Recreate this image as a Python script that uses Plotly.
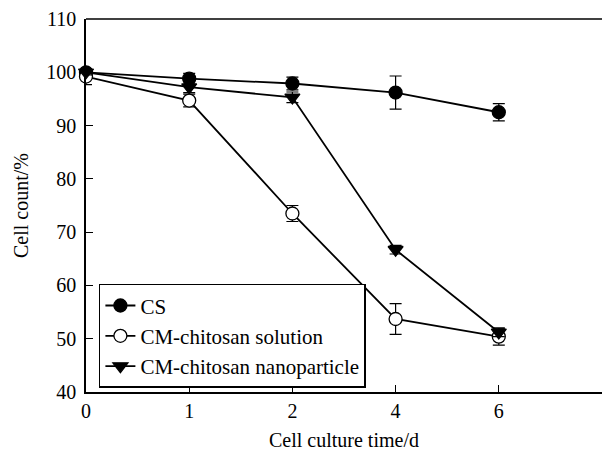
import plotly.graph_objects as go

days = ["0", "1", "2", "4", "6"]
cs = [100.0, 98.8, 97.9, 96.2, 92.5]
cs_err = [0.5, 1.0, 1.2, 3.1, 1.6]
sol = [99.2, 94.7, 73.5, 53.7, 50.4]
sol_err = [1.5, 1.2, 1.5, 2.9, 1.6]
nano = [100.0, 97.2, 95.3, 66.7, 51.2]
nano_err = [0.5, 1.0, 1.0, 0.8, 0.8]

xi = list(range(len(days)))
FONT = "Liberation Serif, Times New Roman, serif"

fig = go.Figure()

def add(name, y, err, symbol, fill):
    fig.add_trace(go.Scatter(
        x=xi, y=y, name=name, mode="lines+markers",
        line=dict(color="black", width=1.8),
        marker=dict(symbol=symbol, size=13, color=fill,
                    line=dict(color="black", width=1.3)),
        error_y=dict(type="data", array=err, visible=True,
                     color="black", thickness=1.2, width=6),
        cliponaxis=False,
    ))

add("CS", cs, cs_err, "circle", "black")
add("CM-chitosan solution", sol, sol_err, "circle", "white")
add("CM-chitosan nanoparticle", nano, nano_err, "triangle-down", "black")

fig.update_layout(
    width=602, height=451,
    margin=dict(l=86, r=0, t=19, b=59),
    paper_bgcolor="white", plot_bgcolor="white",
    font=dict(family=FONT, size=20, color="black"),
    showlegend=True,
    legend=dict(x=0.025, y=0.29, xanchor="left", yanchor="top",
                bordercolor="black", borderwidth=1.5, bgcolor="white",
                font=dict(family=FONT, size=21), tracegroupgap=0,
                itemwidth=30),
)
fig.update_xaxes(
    range=[0, 5], tickmode="array", tickvals=xi, ticktext=days,
    ticks="inside", ticklen=7, tickwidth=1.3, tickcolor="black",
    showline=True, linecolor="black", linewidth=1.5, mirror=False,
    showgrid=False, zeroline=False,
    tickfont=dict(family=FONT, size=20),
    title=dict(text="Cell culture time/d", font=dict(family=FONT, size=20), standoff=12),
)
fig.update_yaxes(
    range=[40, 110], tickvals=[40, 50, 60, 70, 80, 90, 100, 110],
    ticks="inside", ticklen=7, tickwidth=1.3, tickcolor="black",
    showline=True, linecolor="black", linewidth=1.5,
    showgrid=False, zeroline=False,
    tickfont=dict(family=FONT, size=20), ticklabelstandoff=4,
    title=dict(text="Cell count/%", font=dict(family=FONT, size=20), standoff=12),
)
fig.add_shape(type="line", xref="paper", yref="paper", x0=0, x1=1, y0=1, y1=1,
              line=dict(color="black", width=1.5))

fig.write_html("out.html")
